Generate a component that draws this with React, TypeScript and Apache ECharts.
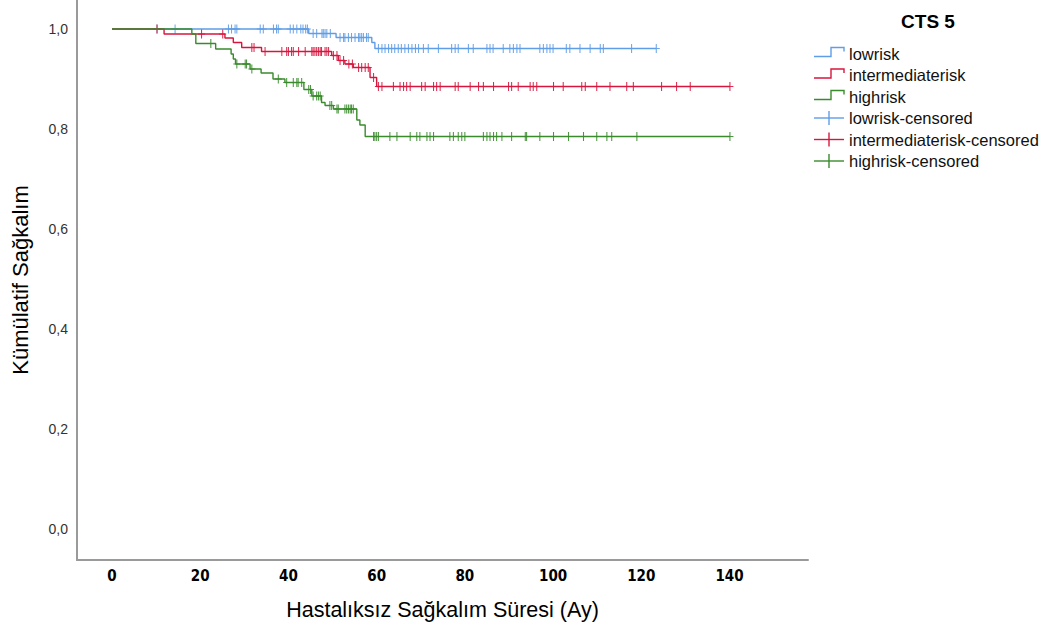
import React, { useEffect, useRef } from "react";
import * as echarts from "echarts";

// ---- Data ----
const xTicks = [0, 20, 40, 60, 80, 100, 120, 140];
const yTicks = [0, 0.2, 0.4, 0.6, 0.8, 1.0];

const groupNames = ["lowrisk", "intermediaterisk", "highrisk"];
const legendLabels = [
  "lowrisk",
  "intermediaterisk",
  "highrisk",
  "lowrisk-censored",
  "intermediaterisk-censored",
  "highrisk-censored",
];
const colors = ["#5f9de6", "#d7163e", "#3a8b2c"];

// step curves: event times and survival after each step
const lowTimes = [0, 44.6, 50.8, 58.9, 59.6, 123.4];
const lowSurv = [1, 0.991, 0.983, 0.973, 0.961, 0.961];

const midTimes = [0, 11.8, 25.6, 27.5, 29.4, 33.9, 49.8, 51.3, 52.8, 54.7, 58.5, 60.0, 140.1];
const midSurv = [1, 0.99, 0.982, 0.973, 0.963, 0.955, 0.947, 0.937, 0.93, 0.923, 0.903, 0.885, 0.885];

const highTimes = [0, 18.1, 19.0, 23.5, 27.0, 27.5, 28.0, 31.3, 33.8, 36.5, 39.2, 43.5, 45.3, 47.5, 48.3, 50.2, 55.5, 56.2, 57.4, 140.1];
const highSurv = [1, 0.99, 0.971, 0.96, 0.95, 0.94, 0.93, 0.92, 0.912, 0.90, 0.893, 0.879, 0.866, 0.853, 0.847, 0.84, 0.818, 0.808, 0.785, 0.785];

// censoring times
const lowCensor = [10.2, 14.3, 26.4, 27.1, 27.9, 28.3, 33.6, 34.3, 36.6, 37.3, 37.7, 40.4, 41.1, 41.9, 42.8, 43.3, 43.9, 44.3, 45.6, 46.4, 47.6, 47.9, 48.3, 48.7, 49.5, 51.7, 52.5, 52.8, 53.6, 54.3, 55.1, 55.9, 56.2, 56.6, 57.0, 57.7, 58.1, 60.4, 61.2, 61.9, 62.7, 63.4, 64.1, 64.9, 65.6, 66.4, 67.2, 68.0, 68.8, 69.5, 70.6, 71.7, 74.0, 77.0, 77.8, 78.5, 80.8, 81.9, 85.0, 85.7, 86.4, 88.7, 90.2, 91.0, 91.8, 92.5, 97.0, 97.8, 98.6, 99.3, 100.0, 103.0, 103.8, 106.1, 108.4, 110.7, 111.4, 117.8, 123.4];
const midCensor = [10.2, 20.3, 25.1, 31.7, 32.2, 34.7, 38.5, 39.6, 40.0, 40.7, 41.1, 42.3, 43.8, 45.3, 45.6, 46.0, 46.4, 46.8, 47.2, 47.5, 48.3, 48.7, 49.1, 50.2, 51.0, 51.7, 52.5, 53.7, 54.5, 55.9, 56.6, 57.4, 58.1, 59.3, 60.4, 61.2, 63.8, 65.3, 66.1, 66.8, 67.6, 70.2, 71.0, 72.9, 73.6, 74.4, 77.8, 78.5, 81.2, 83.1, 84.2, 86.5, 89.9, 90.6, 92.1, 94.8, 95.5, 96.3, 100.1, 102.3, 106.5, 107.3, 109.9, 112.9, 116.7, 118.2, 124.6, 128.0, 131.1, 140.1];
const highCensor = [22.4, 28.3, 30.2, 30.5, 31.7, 37.7, 39.6, 41.1, 41.9, 42.2, 43.0, 44.6, 45.0, 45.6, 46.4, 46.8, 47.2, 49.4, 49.8, 51.0, 51.3, 52.8, 53.2, 53.6, 54.0, 54.3, 54.7, 59.3, 59.6, 60.0, 60.4, 63.0, 64.6, 67.6, 69.1, 69.8, 71.4, 72.1, 72.9, 76.6, 77.4, 78.5, 79.3, 80.0, 84.2, 85.0, 85.7, 86.5, 87.2, 88.4, 90.6, 93.7, 94.0, 97.0, 100.1, 103.5, 106.9, 109.9, 112.2, 113.3, 119.0, 140.1];

const curves = [
  { times: lowTimes, surv: lowSurv, censor: lowCensor },
  { times: midTimes, surv: midSurv, censor: midCensor },
  { times: highTimes, surv: highSurv, censor: highCensor },
];

function survAt(times: number[], surv: number[], t: number) {
  let s = surv[0];
  for (let i = 0; i < times.length; i++) {
    if (times[i] <= t) s = surv[i];
  }
  return s;
}

const PLUS = "path://M3.4,0 h1.2 v10 h-1.2 z M0,4.4 h8 v1.2 h-8 z";

export default function App() {
  const ref = useRef<HTMLDivElement>(null);
  useEffect(() => {
    if (!ref.current) return;
    const chart = echarts.init(ref.current, null, { renderer: "svg" });

    const lineSeries = curves.map((c, i) => ({
      name: groupNames[i],
      type: "line",
      step: "end",
      symbol: "none",
      data: c.times.map((t, k) => [t, c.surv[k]]),
      lineStyle: { color: colors[i], width: 1.4 },
      itemStyle: { color: colors[i] },
      z: 2 + i,
      silent: true,
    }));
    const censorSeries = curves.map((c, i) => ({
      name: groupNames[i] + "-censored",
      type: "scatter",
      symbol: PLUS,
      symbolSize: [7, 9],
      data: c.censor.map((t) => [t, survAt(c.times, c.surv, t)]),
      itemStyle: { color: colors[i], opacity: 0.9 },
      z: 2 + i,
      silent: true,
    }));

    const legendX = 814;
    const legendY0 = 53.5;
    const legendDy = 21.5;
    const legendChildren: any[] = [];
    legendLabels.forEach((lab, i) => {
      const y = legendY0 + i * legendDy;
      const col = colors[i % 3];
      if (i < 3) {
        legendChildren.push({
          type: "polyline",
          shape: {
            points: [
              [legendX, y + 3],
              [legendX + 17, y + 3],
              [legendX + 17, y - 6],
              [legendX + 30, y - 6],
              [legendX + 30, y - 2],
            ],
          },
          style: { stroke: col, lineWidth: 1.4, fill: "none" },
        });
      } else {
        legendChildren.push({
          type: "line",
          shape: { x1: legendX, y1: y, x2: legendX + 30, y2: y },
          style: { stroke: col, lineWidth: 1.4 },
        });
        legendChildren.push({
          type: "line",
          shape: { x1: legendX + 15, y1: y - 7, x2: legendX + 15, y2: y + 7 },
          style: { stroke: col, lineWidth: 1.4 },
        });
      }
      legendChildren.push({
        type: "text",
        x: legendX + 35,
        y: y,
        style: {
          text: lab,
          fill: "#111",
          font: "16.5px 'Liberation Sans', Arial, sans-serif",
          verticalAlign: "middle",
        },
      });
    });
    legendChildren.push({
      type: "text",
      x: 928,
      y: 21,
      style: {
        text: "CTS 5",
        fill: "#000",
        font: "bold 19px 'Liberation Sans', Arial, sans-serif",
        align: "center",
        verticalAlign: "middle",
      },
    });

    chart.setOption({
      animation: false,
      backgroundColor: "#ffffff",
      grid: { left: 77, right: 248, top: 0, bottom: 73, containLabel: false },
      xAxis: {
        type: "value",
        min: -7.94,
        max: 157.8,
        splitLine: { show: false },
        axisTick: { show: false },
        axisLine: { show: true, onZero: false, lineStyle: { color: "#9a9a9a", width: 2 } },
        axisLabel: {
          customValues: xTicks,
          formatter: (v: number) => String(Math.round(v)),
          color: "#000",
          fontWeight: "bold",
          fontSize: 15,
          fontFamily: "'Liberation Sans Narrow', 'DejaVu Sans Condensed', 'Arial Narrow', sans-serif",
          margin: 8,
        },
        name: "Hastalıksız Sağkalım Süresi (Ay)",
        nameLocation: "middle",
        nameGap: 39,
        nameTextStyle: { color: "#000", fontSize: 21.5, fontFamily: "'Liberation Sans', Arial, sans-serif" },
      },
      yAxis: {
        type: "value",
        min: -0.062,
        max: 1.058,
        splitLine: { show: false },
        axisTick: { show: false },
        axisLine: { show: true, onZero: false, lineStyle: { color: "#9a9a9a", width: 2 } },
        axisLabel: {
          customValues: yTicks,
          formatter: (v: number) => v.toFixed(1).replace(".", ","),
          color: "#333",
          fontSize: 14,
          fontFamily: "'Liberation Sans', Arial, sans-serif",
          margin: 9,
          padding: [4, 0, 0, 0],
        },
        name: "Kümülatif Sağkalım",
        nameLocation: "middle",
        nameGap: 46,
        nameTextStyle: { color: "#000", fontSize: 22, fontFamily: "'Liberation Sans', Arial, sans-serif" },
      },
      graphic: [{ type: "group", children: legendChildren }],
      series: [...lineSeries, ...censorSeries],
    });
    return () => chart.dispose();
  }, []);
  return (
    <div
      ref={ref}
      style={{ position: "absolute", left: 0, top: 0, width: 1056, height: 633 }}
    />
  );
}
